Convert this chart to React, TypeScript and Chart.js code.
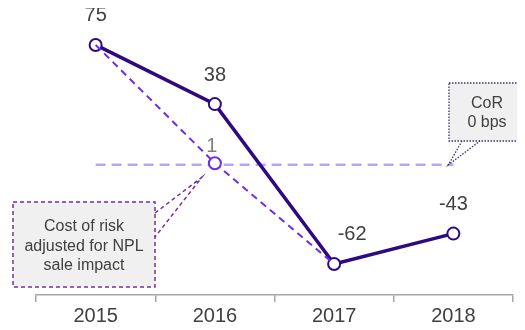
import React, { useEffect, useRef } from "react";
import { Chart, registerables } from "chart.js";

Chart.register(...registerables);

const years = ["2015", "2016", "2017", "2018"];
const cor = [75, 38, -62, -43];
const corAdjusted = [75, 1, -62, null];
const zeroLine = [0, 0, 0, 0];
const adjustedNote = ["Cost of risk", "adjusted for NPL", "sale impact"];
const corNote = ["CoR", "0 bps"];

const FONT = "'Liberation Sans', Arial, sans-serif";

const labelsPlugin = {
  id: "labelsPlugin",
  afterDatasetsDraw(chart: any) {
    const ctx = chart.ctx;
    const x = chart.scales.x;
    const y = chart.scales.y;
    ctx.save();
    ctx.font = `20px ${FONT}`;
    ctx.textAlign = "center";
    ctx.textBaseline = "middle";
    cor.forEach((v, i) => {
      const px = x.getPixelForValue(i);
      const py = y.getPixelForValue(v);
      ctx.fillStyle = "#404040";
      const dx = i === 2 ? 18 : 0;
      ctx.fillText(String(v), px + dx, py - 29);
    });
    const v1 = corAdjusted[1] as number;
    ctx.fillStyle = "#7f7f7f";
    ctx.fillText(String(v1), x.getPixelForValue(1) - 3, y.getPixelForValue(v1) - 17);
    ctx.restore();
  },
  afterDraw(chart: any) {
    const ctx = chart.ctx;
    const x = chart.scales.x;
    const y = chart.scales.y;
    ctx.save();
    // Callout 1
    const tip1x = x.getPixelForValue(1) - 13;
    const tip1y = y.getPixelForValue(1) + 14;
    ctx.fillStyle = "#f0f0f0";
    ctx.fillRect(5, 194, 142, 85);
    ctx.strokeStyle = "#7030a0";
    ctx.lineWidth = 1.5;
    ctx.setLineDash([4, 3]);
    ctx.strokeRect(5, 194, 142, 85);
    ctx.beginPath();
    ctx.moveTo(147, 205);
    ctx.lineTo(tip1x, tip1y);
    ctx.lineTo(147, 229);
    ctx.stroke();
    ctx.fillStyle = "#404040";
    ctx.font = `16px ${FONT}`;
    ctx.textAlign = "center";
    ctx.textBaseline = "middle";
    adjustedNote.forEach((t, i) => ctx.fillText(t, 76, 219 + i * 19.5));
    // Callout 2
    const tip2x = x.getPixelForValue(3) - 5;
    const tip2y = y.getPixelForValue(0);
    ctx.fillStyle = "#f0f0f0";
    ctx.fillRect(441, 75, 90, 58);
    ctx.strokeStyle = "#3a3470";
    ctx.lineWidth = 1.3;
    ctx.setLineDash([1.5, 1.5]);
    ctx.strokeRect(441, 75, 90, 58);
    ctx.beginPath();
    ctx.moveTo(454, 133);
    ctx.lineTo(tip2x, tip2y);
    ctx.lineTo(472, 133);
    ctx.stroke();
    ctx.fillStyle = "#404040";
    corNote.forEach((t, i) => ctx.fillText(t, 479, 96 + i * 19));
    ctx.restore();
  },
};

export default function App() {
  const ref = useRef<HTMLCanvasElement>(null);
  useEffect(() => {
    const chart = new Chart(ref.current as HTMLCanvasElement, {
      type: "line",
      data: {
        labels: years,
        datasets: [
          {
            data: corAdjusted,
            borderColor: "#6a2cf0",
            borderWidth: 2,
            borderDash: [7, 5],
            pointRadius: [0, 6, 0, 0],
            pointBackgroundColor: "#ffffff",
            pointBorderColor: "#6a2cf0",
            pointBorderWidth: 2,
            order: 0,
          },
          {
            data: cor,
            borderColor: "#2e0a82",
            borderWidth: 3.5,
            pointRadius: 6,
            pointBackgroundColor: "#ffffff",
            pointBorderColor: "#2e0a82",
            pointBorderWidth: 2,
            order: 1,
          },
          {
            data: zeroLine,
            borderColor: "#b9a3ff",
            borderWidth: 2.5,
            borderDash: [10, 6],
            pointRadius: 0,
            order: 2,
          },
        ],
      },
      options: {
        animation: false,
        responsive: true,
        maintainAspectRatio: false,
        layout: { autoPadding: false, padding: { left: 28, right: 4, top: 0, bottom: 0 } },
        plugins: { legend: { display: false }, tooltip: { enabled: false } },
        scales: {
          x: {
            offset: true,
            grid: { offset: true, drawOnChartArea: false, tickLength: 7, color: "#a6a6a6", lineWidth: 1.5 },
            border: { color: "#a6a6a6", width: 1.5 },
            ticks: { font: { size: 20, family: FONT }, color: "#404040", padding: 2 },
          },
          y: { display: false, min: -81.4, max: 98.1 },
        },
      },
      plugins: [labelsPlugin],
    });
    return () => chart.destroy();
  }, []);
  return (
    <div style={{ position: "relative", width: 509, height: 322 }}>
      <canvas ref={ref} />
    </div>
  );
}
